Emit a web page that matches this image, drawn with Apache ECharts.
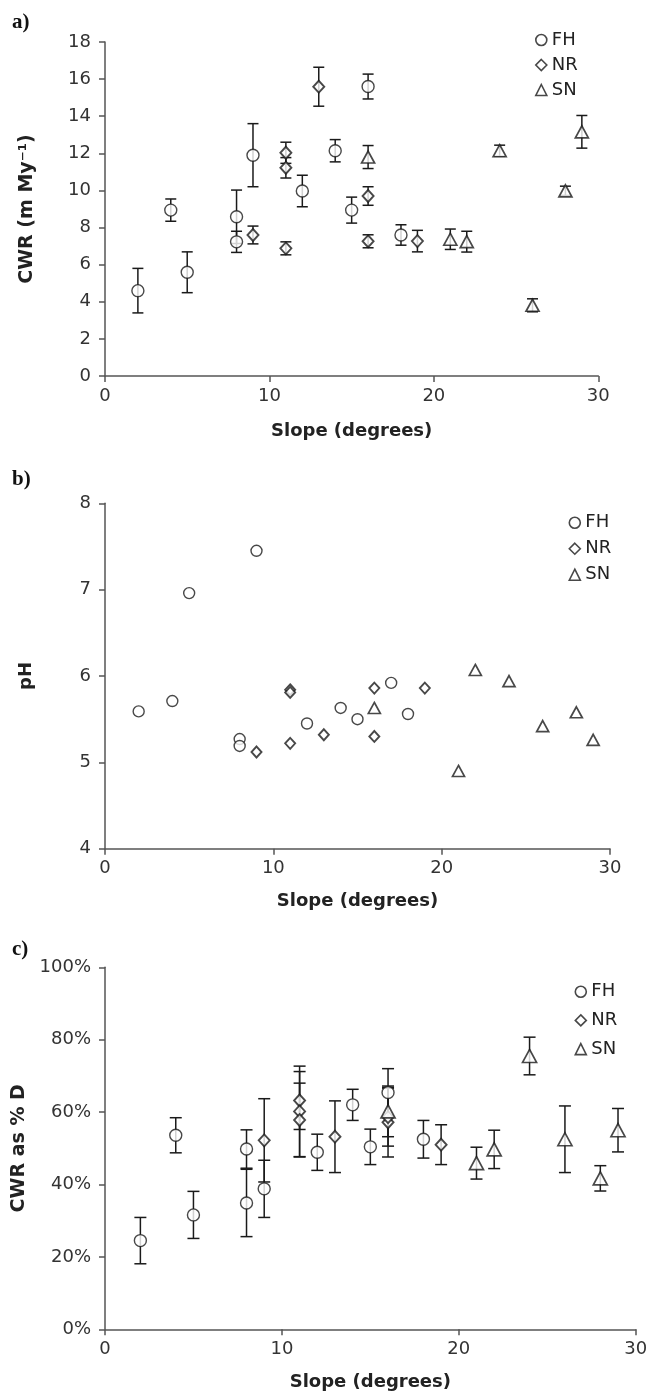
<!DOCTYPE html>
<html>
<head>
<meta charset="utf-8">
<script src="https://cdn.jsdelivr.net/npm/echarts@6/dist/echarts.min.js"></script>
<style>
  html, body { margin: 0; padding: 0; background: #fff; }
  #chart { width: 659px; height: 1396px; }
</style>
</head>
<body>
<div id="chart"></div>
<script>
// Panel a: channel widening rate (m My-1) against slope, rows are [slope, mean, error]
const cwrFH = [[2, 4.6, 1.2], [4, 8.94, 0.6], [5, 5.59, 1.1], [8, 8.58, 1.44], [8, 7.23, 0.57],
  [9, 11.9, 1.7], [12, 9.97, 0.85], [14, 12.14, 0.6], [15, 8.94, 0.7], [16, 15.6, 0.67], [18, 7.6, 0.55]];
const cwrNR = [[9, 7.6, 0.48], [11, 12.03, 0.57], [11, 11.22, 0.55], [11, 6.88, 0.35],
  [13, 15.59, 1.05], [16, 9.7, 0.5], [16, 7.26, 0.35], [19, 7.27, 0.58]];
const cwrSN = [[16, 11.8, 0.62], [21, 7.37, 0.55], [22, 7.24, 0.56], [24, 12.14, 0.3],
  [26, 3.81, 0.35], [28, 9.98, 0.25], [29, 13.16, 0.88]];

// Panel b: soil pH against slope, rows are [slope, pH]
const phFH = [[2, 5.59], [4, 5.71], [5, 6.96], [8, 5.27], [8, 5.19], [9, 7.45], [12, 5.45],
  [14, 5.63], [15, 5.50], [17, 5.92], [18, 5.56]];
const phNR = [[9, 5.12], [11, 5.84], [11, 5.81], [11, 5.22], [13, 5.32], [16, 5.86], [16, 5.30], [19, 5.86]];
const phSN = [[16, 5.63], [21, 4.90], [22, 6.07], [24, 5.94], [26, 5.42], [28, 5.58], [29, 5.26]];

// Panel c: CWR as a percentage of D, rows are [slope, percent, error]
const pctFH = [[2, 24.5, 6.4], [4, 53.6, 4.85], [5, 31.6, 6.5], [8, 49.8, 5.3], [8, 34.9, 9.3],
  [9, 38.8, 7.9], [12, 48.9, 5.0], [14, 62.0, 4.3], [15, 50.4, 4.9], [16, 65.4, 6.6], [18, 52.5, 5.2]];
const pctNR = [[9, 52.2, 11.5], [11, 63.2, 8.0], [11, 60.2, 12.5], [11, 57.8, 10.2],
  [13, 53.2, 9.9], [16, 57.2, 9.6], [16, 58.6, 8.0], [19, 51.0, 5.5]];
const pctSN = [[16, 60.2, 7.0], [21, 45.9, 4.4], [22, 49.7, 5.3], [24, 75.5, 5.2],
  [26, 52.5, 9.2], [28, 41.7, 3.5], [29, 55.0, 6.0]];

const groups = ['FH', 'NR', 'SN'];
const panelLetters = ['a)', 'b)', 'c)'];
const yTitles = ['CWR (m My\u207B\u00B9)', 'pH', 'CWR as % D'];
const xTitle = 'Slope (degrees)';

const INK = '#1a1a1a';
const AXIS = '#555';
const FONT = 'DejaVu Sans';

const grids = [
  { left: 105, top: 42, width: 493.3, height: 334 },
  { left: 105, top: 503.3, width: 505, height: 345.4 },
  { left: 105, top: 967.3, width: 530.7, height: 362 }
];

const yRanges = [
  { min: 0, max: 18, interval: 2, fmt: '{value}' },
  { min: 4, max: 8, interval: 1, fmt: '{value}' },
  { min: 0, max: 100, interval: 20, fmt: '{value}%' }
];

function xAxisFor(i) {
  return {
    type: 'value', gridIndex: i, min: 0, max: 30, interval: 10,
    axisLine: { show: true, onZero: false, lineStyle: { color: AXIS, width: 1.5 } },
    axisTick: { show: true, length: 6, lineStyle: { color: AXIS, width: 1.5 } },
    splitLine: { show: false },
    axisLabel: { fontFamily: FONT, fontSize: 18, color: '#333', margin: 11 },
    name: xTitle, nameLocation: 'middle', nameGap: [46, 44, 44][i],
    nameTextStyle: { fontFamily: FONT, fontWeight: 'bold', fontSize: 18, color: '#222' }
  };
}

function yAxisFor(i) {
  const r = yRanges[i];
  return {
    type: 'value', gridIndex: i, min: r.min, max: r.max, interval: r.interval,
    axisLine: { show: true, onZero: false, lineStyle: { color: AXIS, width: 1.5 } },
    axisTick: { show: true, length: 6, lineStyle: { color: AXIS, width: 1.5 } },
    splitLine: { show: false },
    axisLabel: { fontFamily: FONT, fontSize: 18, color: '#333', margin: 14, formatter: r.fmt },
    name: yTitles[i], nameLocation: 'middle', nameRotate: 90, nameGap: [68, 70, 71][i],
    nameTextStyle: { fontFamily: FONT, fontWeight: 'bold', fontSize: [19, 18, 19][i], color: '#222' }
  };
}

// Vertical error bars with caps, drawn beneath the markers
function errorBars(data, i, capHalf) {
  return {
    type: 'custom', xAxisIndex: i, yAxisIndex: i, data: data, z: 1, silent: true,
    encode: { x: 0, y: 1 },
    renderItem: function (params, api) {
      const x = api.value(0), y = api.value(1), e = api.value(2);
      const hi = api.coord([x, y + e]);
      const lo = api.coord([x, y - e]);
      const style = { stroke: INK, lineWidth: 1.5 };
      return {
        type: 'group',
        children: [
          { type: 'line', shape: { x1: hi[0], y1: hi[1], x2: lo[0], y2: lo[1] }, style: style },
          { type: 'line', shape: { x1: hi[0] - capHalf, y1: hi[1], x2: hi[0] + capHalf, y2: hi[1] }, style: style },
          { type: 'line', shape: { x1: lo[0] - capHalf, y1: lo[1], x2: lo[0] + capHalf, y2: lo[1] }, style: style }
        ]
      };
    }
  };
}

const symbols = { FH: 'circle', NR: 'diamond', SN: 'triangle' };
const symbolSizes = [
  { FH: 12, NR: [11, 12], SN: [13, 12] },
  { FH: 11, NR: [10, 11], SN: [12, 11] },
  { FH: 12, NR: [11, 12], SN: [14, 13] }
];
const strokeWidths = { FH: 1.4, NR: 1.9, SN: 1.7 };

function markers(name, data, i) {
  return {
    type: 'scatter', name: name, xAxisIndex: i, yAxisIndex: i, z: 3,
    data: data.map(function (r) { return [r[0], r[1]]; }),
    symbol: symbols[name], symbolSize: symbolSizes[i][name],
    itemStyle: { color: '#fff', borderColor: INK, borderWidth: strokeWidths[name] },
    emphasis: { disabled: true }
  };
}

const panels = [
  { FH: cwrFH, NR: cwrNR, SN: cwrSN, err: true },
  { FH: phFH, NR: phNR, SN: phSN, err: false },
  { FH: pctFH, NR: pctNR, SN: pctSN, err: true }
];

const series = [];
panels.forEach(function (p, i) {
  groups.forEach(function (g) {
    if (p.err) series.push(errorBars(p[g], i, i === 2 ? 6 : 5.5));
    series.push(markers(g, p[g], i));
  });
});

const legendPlaces = [
  { left: 535, top: 31, gap: 7 },
  { left: 568.5, top: 513.7, gap: 8 },
  { left: 574.5, top: 982.7, gap: 10.7 }
];

const legends = legendPlaces.map(function (l) {
  return {
    orient: 'vertical', left: l.left, top: l.top, itemGap: l.gap, padding: 0,
    itemWidth: 11, itemHeight: 11, selectedMode: false,
    data: groups.map(function (g) { return { name: g, icon: symbols[g] }; }),
    itemStyle: { color: '#fff', borderColor: INK, borderWidth: 1.6 },
    textStyle: { fontFamily: FONT, fontSize: 18, color: '#222', lineHeight: 18 }
  };
});

const letterTops = [12, 469, 939];
const graphics = panelLetters.map(function (t, i) {
  return {
    type: 'text', left: 12, top: letterTops[i],
    style: { text: t, font: 'bold 21px "Liberation Serif"', fill: '#111' }
  };
});

const chart = echarts.init(document.getElementById('chart'), null, { renderer: 'canvas' });
chart.setOption({
  animation: false,
  backgroundColor: '#fff',
  grid: grids,
  xAxis: [0, 1, 2].map(xAxisFor),
  yAxis: [0, 1, 2].map(yAxisFor),
  legend: legends,
  graphic: graphics,
  series: series
});
</script>
</body>
</html>
